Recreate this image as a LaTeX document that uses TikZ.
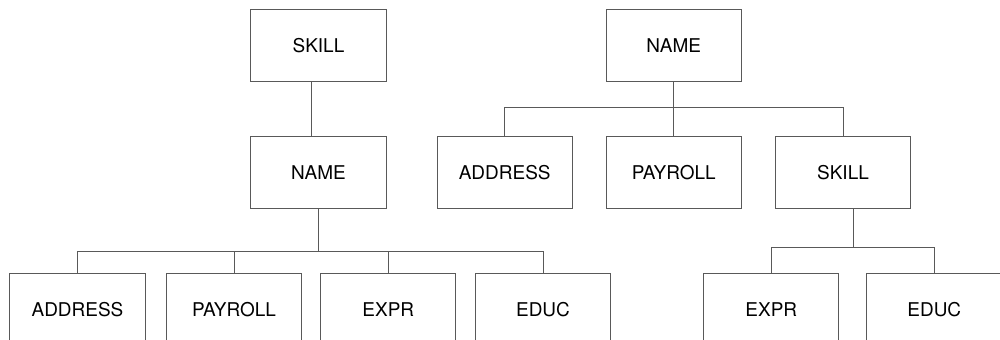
\documentclass[tikz,border=0pt]{standalone}
\usepackage{fontspec}
\setmainfont{TeX Gyre Heros}
\usepackage{tikz}
\usepackage{xcolor}
\definecolor{rule}{gray}{0.35}

\begin{document}
\begin{tikzpicture}[x=0.025cm,y=-0.025cm,
    seg/.style={draw=rule,fill=white,line width=0.7pt,minimum width=3.375cm,
                minimum height=1.775cm,font=\fontsize{13.5}{16}\selectfont},
    link/.style={draw=rule,line width=0.7pt}]
    \clip (0,0) rectangle (1000,340);

    % skill-rooted tree
    \node[seg] (lskill) at (318.5,45.5) {SKILL};
    \node[seg] (lname) at (318.5,172.5) {NAME};
    \node[seg] (laddr) at (77.5,309.5) {ADDRESS};
    \node[seg] (lpay) at (234,309.5) {PAYROLL};
    \node[seg] (lexpr) at (388.3,309.5) {EXPR};
    \node[seg] (leduc) at (543,309.5) {EDUC};
    \draw[link] ([xshift=-0.18cm]lskill.south)--([xshift=-0.18cm]lname.north);
    \foreach \c in {laddr,lpay,lexpr,leduc}
        \draw[link] (lname.south)--++(0,43)-|(\c.north);

    % name-rooted tree
    \node[seg] (rname) at (673.7,45.5) {NAME};
    \node[seg] (raddr) at (504.7,172.5) {ADDRESS};
    \node[seg] (rpay) at (673.7,172.5) {PAYROLL};
    \node[seg] (rskill) at (843,172.5) {SKILL};
    \node[seg] (rexpr) at (771.3,309.5) {EXPR};
    \node[seg] (reduc) at (934.3,309.5) {EDUC};
    \foreach \c in {raddr,rpay,rskill}
        \draw[link] (rname.south)--++(0,26)-|(\c.north);
    \foreach \c in {rexpr,reduc}
        \draw[link] ([xshift=0.27cm]rskill.south)--++(0,38.7)-|(\c.north);
\end{tikzpicture}
\end{document}
